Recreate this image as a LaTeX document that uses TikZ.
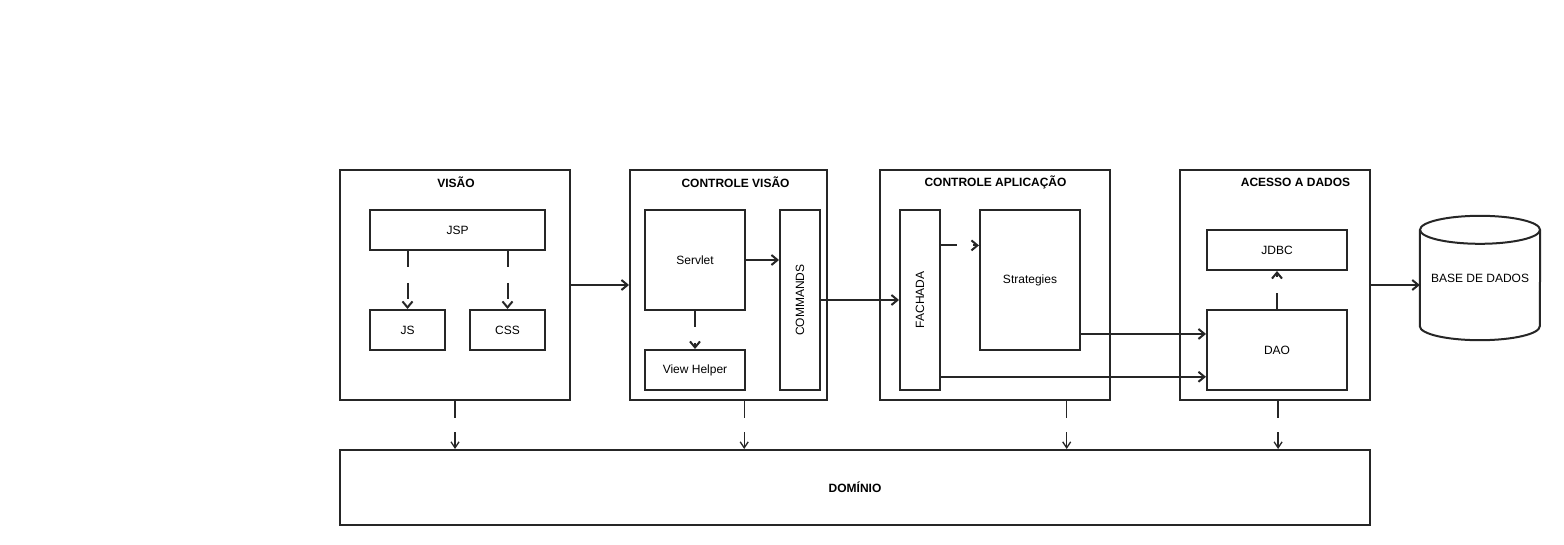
\documentclass[tikz,border=0pt]{standalone}
\usepackage{fontspec}
\setmainfont{Liberation Sans}
\usetikzlibrary{arrows.meta,calc}

\definecolor{ink}{HTML}{262626}

\begin{document}
\begin{tikzpicture}[x=1pt,y=-1pt,
  box/.style={draw=ink, line width=2pt, fill=white, inner sep=0pt,
    font=\fontsize{12}{14}\selectfont},
  txt/.style={inner sep=0pt, font=\fontsize{12}{14}\selectfont},
  title/.style={inner sep=0pt, font=\fontsize{12}{14}\selectfont\bfseries},
  flow/.style={draw=ink, line width=2pt,
    -{Straight Barb[length=6pt,width=10pt,line width=2pt]}},
  dep/.style={flow, dash pattern=on 16pt off 16pt},
  uses/.style={draw=ink, line width=1.3pt, dash pattern=on 17pt off 14pt,
    -{Straight Barb[length=6pt,width=8pt,line width=1.3pt]}}
]
\useasboundingbox (0,0) rectangle (1564,545);

% layers
\node[box, minimum width=230, minimum height=230] (visao) at (455,285) {};
\node[title] at (456,182) {VISÃO};
\node[box, minimum width=197, minimum height=230] (cv) at (728.5,285) {};
\node[title] at (735.5,182) {CONTROLE VISÃO};
\node[box, minimum width=230, minimum height=230] (ca) at (995,285) {};
\node[title] at (995.5,182) {CONTROLE APLICAÇÃO};
\node[box, minimum width=190, minimum height=230] (ad) at (1275,285) {};
\node[title] at (1295.5,182) {ACESSO A DADOS};
\node[box, minimum width=1030, minimum height=75, font=\fontsize{12}{14}\selectfont\bfseries] (dom) at (855,487.5) {DOMÍNIO};

% view layer
\node[box, minimum width=175, minimum height=40] (jsp) at (457.5,230) {JSP};
\node[box, minimum width=75, minimum height=40] (js) at (407.5,330) {JS};
\node[box, minimum width=75, minimum height=40] (css) at (507.5,330) {CSS};

% view controller
\node[box, minimum width=100, minimum height=100] (servlet) at (695,260) {Servlet};
\node[box, minimum width=100, minimum height=40] (vh) at (695,370) {View Helper};
\node[box, minimum width=40, minimum height=180] (cmd) at (800,300) {};
\node[txt, rotate=90] at (cmd) {COMMANDS};

% application controller
\node[box, minimum width=40, minimum height=180] (fach) at (920,300) {};
\node[txt, rotate=90] at (fach) {FACHADA};
\node[box, minimum width=100, minimum height=140] (strat) at (1030,280) {Strategies};

% data access
\node[box, minimum width=140, minimum height=40] (jdbc) at (1277,250) {JDBC};
\node[box, minimum width=140, minimum height=80] (dao) at (1277,350) {DAO};

% database cylinder
\node[txt, minimum width=120, minimum height=124] (db) at (1480,278) {};
\fill[white] ($(db.north west)+(0,14)$) rectangle ($(db.south east)+(0,-14)$);
\draw[ink, line width=2pt, fill=white]
  ($(db.north west)+(0,14)$) -- ($(db.south west)+(0,-14)$)
  arc[start angle=180, end angle=360, x radius=60pt, y radius=14pt]
  -- ($(db.north east)+(0,14)$);
\draw[ink, line width=2pt, fill=white] ($(db.north)+(0,14)$) ellipse[x radius=60pt, y radius=14pt];
\node[txt] at (db) {BASE DE DADOS};

% connectors
\draw[dep] (jsp.south -| js) -- (js.north);
\draw[dep] (jsp.south -| css) -- (css.north);
\draw[flow] (visao) -- (cv);
\draw[flow] (servlet.east) -- (servlet.east -| cmd.west);
\draw[dep] (servlet.south) -- (vh.north);
\draw[flow] (cmd) -- (fach);
\coordinate (f1) at ($(fach.north east)!0.2!(fach.south east)$);
\draw[dep] (f1) -- (f1 -| strat.west);
\coordinate (s1) at ($(strat.north east)!0.88!(strat.south east)$);
\draw[flow] (s1) -- (s1 -| dao.west);
\coordinate (f2) at ($(fach.north east)!0.922!(fach.south east)$);
\draw[flow] (f2) -- (f2 -| dao.west);
\draw[dep] (dao.north) -- (jdbc.south);
\draw[flow] (ad.east) -- (ad.east -| db.west);

% dependencies on the domain layer
\coordinate (d1) at (visao.south);
\coordinate (d2) at ($(cv.south west)!0.579!(cv.south east)$);
\coordinate (d3) at ($(ca.south west)!0.809!(ca.south east)$);
\coordinate (d4) at ($(ad.south west)!0.516!(ad.south east)$);
\foreach \p in {d1,d2,d3,d4} \draw[uses] (\p) -- (\p |- dom.north);
\end{tikzpicture}
\end{document}
